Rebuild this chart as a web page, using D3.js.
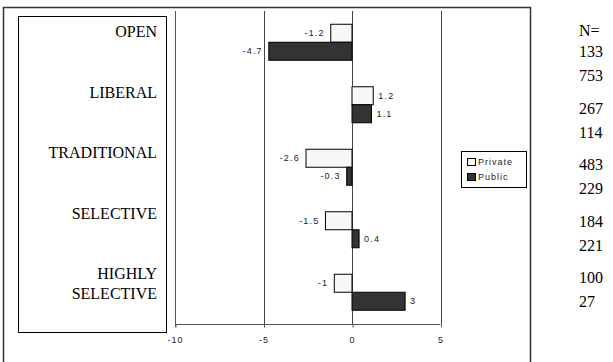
<!DOCTYPE html>
<html><head><meta charset="utf-8">
<script src="https://cdn.jsdelivr.net/npm/d3@7"></script>
<style>
html,body{margin:0;padding:0;background:#fff;}
svg{display:block;}
</style></head>
<body>
<script>
const categories = ["OPEN", "LIBERAL", "TRADITIONAL", "SELECTIVE", "HIGHLY SELECTIVE"];
const series = ["Private", "Public"];
const privateValues = [-1.2, 1.2, -2.6, -1.5, -1];
const publicValues = [-4.7, 1.1, -0.3, 0.4, 3];
const nPrivate = [133, 267, 483, 184, 100];
const nPublic = [753, 114, 229, 221, 27];
const xTicks = [-10, -5, 0, 5];

const W = 613, H = 362;
const svg = d3.select("body").append("svg").attr("width", W).attr("height", H);

const sansFont = "'Liberation Sans', Arial, sans-serif";
const serifFont = "'Liberation Serif', 'Times New Roman', serif";

// outer frame
svg.append("rect").attr("x", 3.5).attr("y", 7.5).attr("width", 527).attr("height", 360)
  .attr("fill", "none").attr("stroke", "#333").attr("stroke-width", 1.5);

// label box
svg.append("rect").attr("x", 18.5).attr("y", 16.5).attr("width", 148).attr("height", 316)
  .attr("fill", "none").attr("stroke", "#000").attr("stroke-width", 1);

const x = d3.scaleLinear().domain([-10, 5]).range([175, 440.5]);
const y = d3.scaleBand().domain(categories).range([11, 323.5]);
const inner = d3.scaleBand().domain(series).range([0, 36]);
const groupOff = (y.bandwidth() - 36) / 2;

const plotTop = 11, plotBottom = 324;

// gridlines
svg.append("g").selectAll("line").data(xTicks.slice(1)).join("line")
  .attr("x1", d => Math.round(x(d)) + 0.5).attr("x2", d => Math.round(x(d)) + 0.5)
  .attr("y1", plotTop).attr("y2", plotBottom)
  .attr("stroke", "#444").attr("stroke-width", 1);

// x axis
const xAxis = d3.axisBottom(x).tickValues(xTicks).tickSize(3).tickFormat(d => String(d));
const gx = svg.append("g").attr("transform", `translate(0,${plotBottom + 0.5})`).call(xAxis);
gx.select(".domain").attr("stroke", "#555").attr("d", `M${x(-10)},0H${x(5)}`);
gx.selectAll(".tick line").attr("stroke", "#555").attr("transform", "translate(0.5,0)");
gx.selectAll(".tick text").attr("y", 12).attr("fill", "#222")
  .style("font-family", sansFont).style("font-size", "9px")
  .style("letter-spacing", "1px");

// y axis line (left)
svg.append("line").attr("x1", 175.5).attr("x2", 175.5).attr("y1", plotTop).attr("y2", plotBottom + 3)
  .attr("stroke", "#555");

// bars
const rows = categories.map((c, i) => [
  {cat: c, s: "Private", v: privateValues[i]},
  {cat: c, s: "Public", v: publicValues[i]}
]).flat();

const fills = {Private: "#f7f7f7", Public: "#333333"};
svg.append("g").selectAll("rect").data(rows).join("rect")
  .attr("x", d => x(Math.min(0, d.v)))
  .attr("y", d => y(d.cat) + groupOff + inner(d.s))
  .attr("width", d => Math.abs(x(d.v) - x(0)))
  .attr("height", inner.bandwidth())
  .attr("fill", d => fills[d.s]).attr("stroke", "#000").attr("stroke-width", 1);

svg.append("g").selectAll("text").data(rows).join("text")
  .attr("x", d => d.v < 0 ? x(d.v) - 6 : x(d.v) + 5)
  .attr("y", d => y(d.cat) + groupOff + inner(d.s) + inner.bandwidth() / 2 + 3)
  .attr("text-anchor", d => d.v < 0 ? "end" : "start")
  .attr("fill", "#222")
  .style("font-family", sansFont).style("font-size", "9px")
  .style("letter-spacing", "1.2px")
  .text(d => String(d.v));

// category labels
const ly = d3.scalePoint().domain(categories).range([37, 279]);
const lab = svg.append("g").style("font-family", serifFont)
  .style("font-size", "16px").attr("fill", "#000");
categories.forEach(c => {
  const parts = c === "HIGHLY SELECTIVE" ? ["HIGHLY", "SELECTIVE"] : [c];
  parts.forEach((p, j) => {
    lab.append("text").attr("x", 157).attr("y", ly(c) + j * 20).attr("text-anchor", "end").text(p);
  });
});

// legend
const lg = svg.append("g");
lg.append("rect").attr("x", 461.5).attr("y", 151.5).attr("width", 65).attr("height", 36)
  .attr("fill", "#fff").attr("stroke", "#000");
series.forEach((s, i) => {
  lg.append("rect").attr("x", 467.5).attr("y", 158.5 + i * 15).attr("width", 8).attr("height", 7)
    .attr("fill", fills[s]).attr("stroke", "#000");
  lg.append("text").attr("x", 478).attr("y", 165 + i * 15).attr("fill", "#222")
    .style("font-family", sansFont).style("font-size", "9px")
    .style("letter-spacing", "1px").text(s);
});

// N column
const ny = d3.scalePoint().domain(categories).range([57, 283]);
const ng = svg.append("g").style("font-family", serifFont)
  .style("font-size", "16px").attr("fill", "#000");
ng.append("text").attr("x", 579).attr("y", 36).text("N=");
categories.forEach((c, i) => {
  ng.append("text").attr("x", 579).attr("y", ny(c)).text(nPrivate[i]);
  ng.append("text").attr("x", 579).attr("y", ny(c) + 24).text(nPublic[i]);
});
</script>
</body></html>
